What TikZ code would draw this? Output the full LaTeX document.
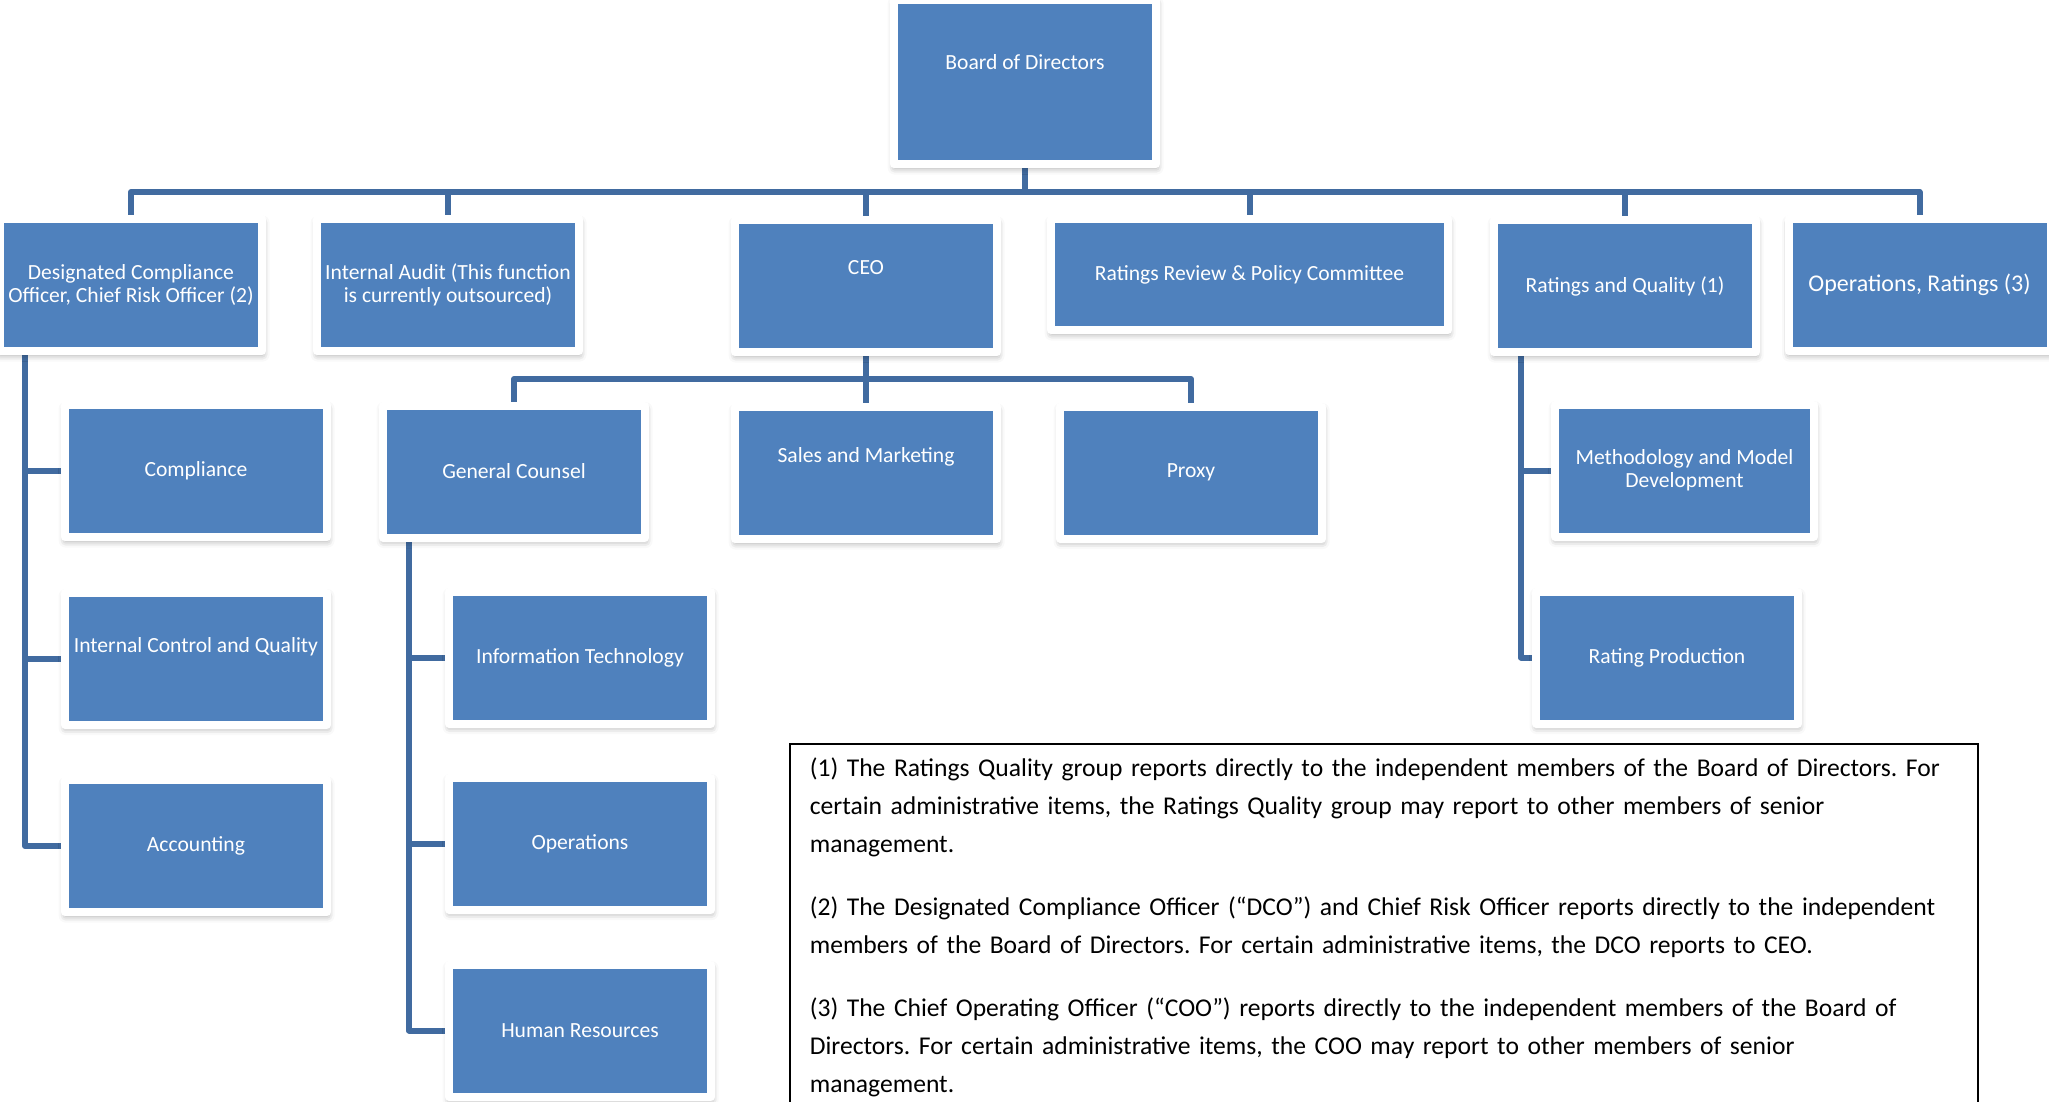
\documentclass[tikz,border=0pt]{standalone}
\usepackage{fontspec}
\setmainfont{Carlito}
\usetikzlibrary{shadows.blur,backgrounds}
\definecolor{boxblue}{RGB}{79,129,189}
\definecolor{linkblue}{RGB}{65,107,160}
\tikzset{
  orgbox/.style={fill=boxblue, draw=white, line width=4pt, line join=round, outer sep=0pt,
    text=white, align=center, font=\fontsize{10.8}{11.6}\selectfont,
    minimum width=131pt, minimum height=66pt, inner sep=2pt,
    blur shadow={shadow xshift=0.3pt, shadow yshift=-1.8pt, shadow blur radius=3.5pt, shadow opacity=40}},
  lifted/.style={text depth=#1},
  link/.style={draw=linkblue, line width=3pt, line join=round},
  notebox/.style={draw=black, line width=0.8pt, anchor=north west, align=left,
    text width=574pt, inner xsep=10pt, inner ysep=7pt,
    font=\fontsize{12.8}{19}\selectfont,
    execute at begin node={\frenchspacing\setlength\parskip{12.5pt}}}
}
\begin{document}
\begin{tikzpicture}[x=0.5pt,y=-0.5pt]
  \clip (0,0) rectangle (2049,1102);

  \node[orgbox, minimum height=82pt, lifted=20pt] (board) at (1025,82) {Board of Directors};

  \node[orgbox] (dco) at (131,285) {Designated Compliance\\Officer, Chief Risk Officer (2)};
  \node[orgbox] (audit) at (448,285) {Internal Audit (This function\\is currently outsourced)};
  \node[orgbox, lifted=19pt] (ceo) at (866,286) {CEO};
  \node[orgbox, minimum width=198.5pt, minimum height=55.5pt] (review) at (1249.5,274.5) {Ratings Review \& Policy Committee};
  \node[orgbox] (quality) at (1625,286) {Ratings and Quality (1)};
  \node[orgbox, font=\fontsize{12}{14}\selectfont] (opsrat) at (1919.5,285) {Operations, Ratings (3)};

  \node[orgbox] (compl) at (196,471) {Compliance};
  \node[orgbox, lifted=14pt] (control) at (196,658.5) {Internal Control and Quality};
  \node[orgbox] (acct) at (196,846) {Accounting};

  \node[orgbox] (counsel) at (514,471.5) {General Counsel};
  \node[orgbox, lifted=18pt] (sales) at (866,473) {Sales and Marketing};
  \node[orgbox] (proxy) at (1191,472.5) {Proxy};

  \node[orgbox] (infotech) at (580,657.5) {Information Technology};
  \node[orgbox] (ops) at (580,843.5) {Operations};
  \node[orgbox] (hr) at (580,1030.5) {Human Resources};

  \node[orgbox, minimum width=129.5pt] (method) at (1684.5,470.5) {Methodology and Model\\Development};
  \node[orgbox] (prod) at (1667,657.5) {Rating Production};

  \coordinate (bus) at (1025,192);
  \coordinate (ceobus) at (866,379);
  \coordinate (dcoleg) at ([xshift=12.5pt]dco.south west);
  \coordinate (counselleg) at ([xshift=13pt]counsel.south west);
  \coordinate (qualityleg) at ([xshift=13.5pt]quality.south west);

  \begin{scope}[on background layer]
    \draw[link] (board) -- (bus);
    \foreach \n in {dco,audit,ceo,review,quality,opsrat}
      \draw[link] (bus) -| (\n);
    \draw[link] (ceo) -- (ceobus);
    \foreach \n in {counsel,sales,proxy}
      \draw[link] (ceobus) -| (\n);
    \foreach \n in {compl,control,acct}
      \draw[link] (dcoleg) |- (\n.west);
    \foreach \n in {infotech,ops,hr}
      \draw[link] (counselleg) |- (\n.west);
    \foreach \n in {method,prod}
      \draw[link] (qualityleg) |- (\n.west);
  \end{scope}

  \node[notebox] (notes) at (789,743) {%
    (1) The Ratings Quality group reports directly to the independent members of the Board of Directors. For\\
    certain administrative items, the Ratings Quality group may report to other members of senior\\
    management.\par
    (2) The Designated Compliance Officer (“DCO”) and Chief Risk Officer reports directly to the independent\\
    members of the Board of Directors. For certain administrative items, the DCO reports to CEO.\par
    (3) The Chief Operating Officer (“COO”) reports directly to the independent members of the Board of\\
    Directors. For certain administrative items, the COO may report to other members of senior\\
    management.};
\end{tikzpicture}
\end{document}
